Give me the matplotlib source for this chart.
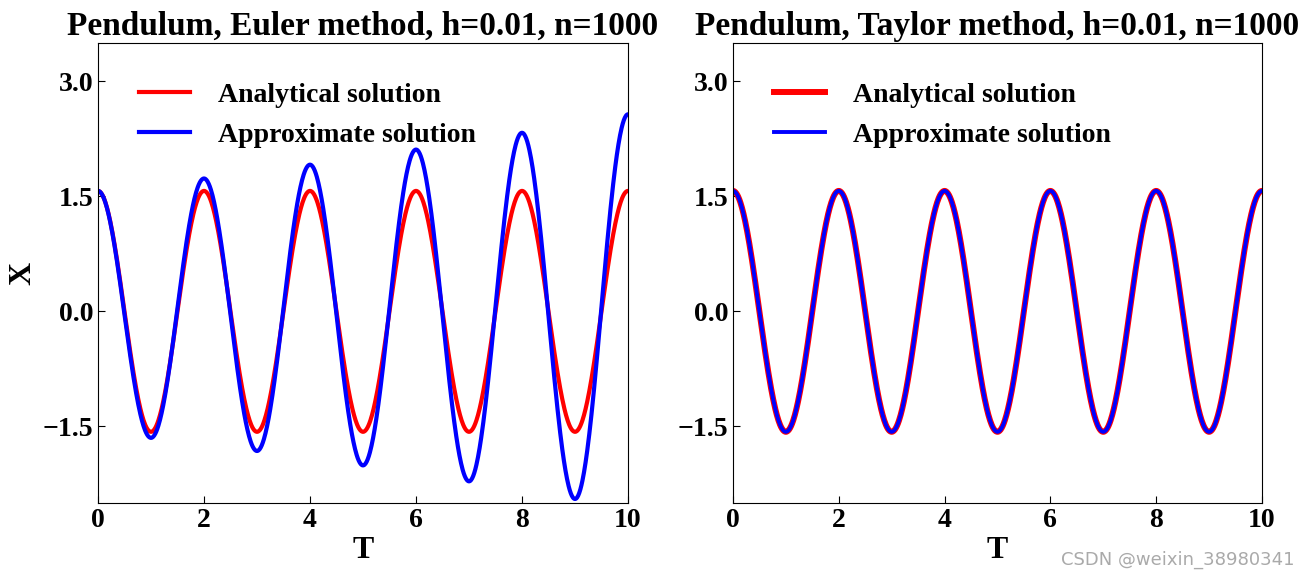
import numpy as np
import matplotlib
matplotlib.use("Agg")
import matplotlib.pyplot as plt
from matplotlib.ticker import FuncFormatter

plt.rcParams["font.family"] = ["Liberation Serif", "DejaVu Serif"]
plt.rcParams["font.weight"] = "bold"

# extrema (time, value)
ext_t = [0, 1, 2, 3, 4, 5, 6, 7, 8, 9, 10]
analytic_ext = [1.571, -1.571, 1.571, -1.571, 1.571, -1.571, 1.571, -1.571, 1.571, -1.571, 1.571]
euler_ext = [1.571, -1.650, 1.733, -1.821, 1.913, -2.009, 2.110, -2.217, 2.329, -2.447, 2.570]
taylor_ext = [1.571, -1.571, 1.571, -1.571, 1.571, -1.571, 1.571, -1.571, 1.571, -1.571, 1.571]

titles = ["Pendulum, Euler method, h=0.01, n=1000",
          "Pendulum, Taylor method, h=0.01, n=1000"]
yticks = [-1.5, 0.0, 1.5, 3.0]
xticks = [0, 2, 4, 6, 8, 10]


def smooth(tk, vk, per_seg=100):
    # half-cosine shaped swing between consecutive extrema
    ts, vs = [], []
    for i in range(len(tk) - 1):
        s = np.linspace(0, 1, per_seg, endpoint=False)
        ts.append(tk[i] + (tk[i + 1] - tk[i]) * s)
        vs.append(vk[i] + (vk[i + 1] - vk[i]) * (1 - np.cos(np.pi * s)) / 2)
    ts.append([tk[-1]])
    vs.append([vk[-1]])
    return np.concatenate(ts), np.concatenate(vs)


fig = plt.figure(figsize=(13.1, 5.76), dpi=100)
ax1 = fig.add_axes([0.0748, 0.1267, 0.4046, 0.7986])
ax2 = fig.add_axes([0.5595, 0.1267, 0.4038, 0.7986])

t_a, x_a = smooth(ext_t, analytic_ext)
t_e, x_e = smooth(ext_t, euler_ext)
t_t, x_t = smooth(ext_t, taylor_ext)

ax1.plot(t_a, x_a, color="red", lw=3, label="Analytical solution")
ax1.plot(t_e, x_e, color="blue", lw=3, label="Approximate solution")

ax2.plot(t_a, x_a, color="red", lw=4.3, label="Analytical solution")
ax2.plot(t_t, x_t, color="blue", lw=2.8, label="Approximate solution")

yfmt = FuncFormatter(lambda v, p: f"{v:.1f}".replace("-", "\u2212"))

for ax, title in zip([ax1, ax2], titles):
    ax.set_xlim(0, 10)
    ax.set_ylim(-2.5, 3.5)
    ax.set_xticks(xticks)
    ax.set_yticks(yticks)
    ax.yaxis.set_major_formatter(yfmt)
    ax.tick_params(direction="in", labelsize=20, length=5)
    for lab in ax.get_xticklabels() + ax.get_yticklabels():
        lab.set_fontweight("bold")
    ax.set_title(title, fontsize=24, fontweight="bold", pad=6)
    ax.set_xlabel("T", fontsize=23, fontweight="bold", labelpad=2)
    ax.legend(loc="upper left", frameon=False,
              prop={"weight": "bold", "size": 20},
              bbox_to_anchor=(0.03, 0.968), handlelength=1.85,
              handletextpad=1.0, labelspacing=0.5)

ax1.set_ylabel("X", fontsize=23, fontweight="bold", labelpad=4)

fig.text(0.988, 0.012, "CSDN @weixin_38980341", ha="right", va="bottom",
         fontsize=13, color="#aaaaaa", family="DejaVu Sans", fontweight="normal")

fig.savefig("out.png", dpi=100)
